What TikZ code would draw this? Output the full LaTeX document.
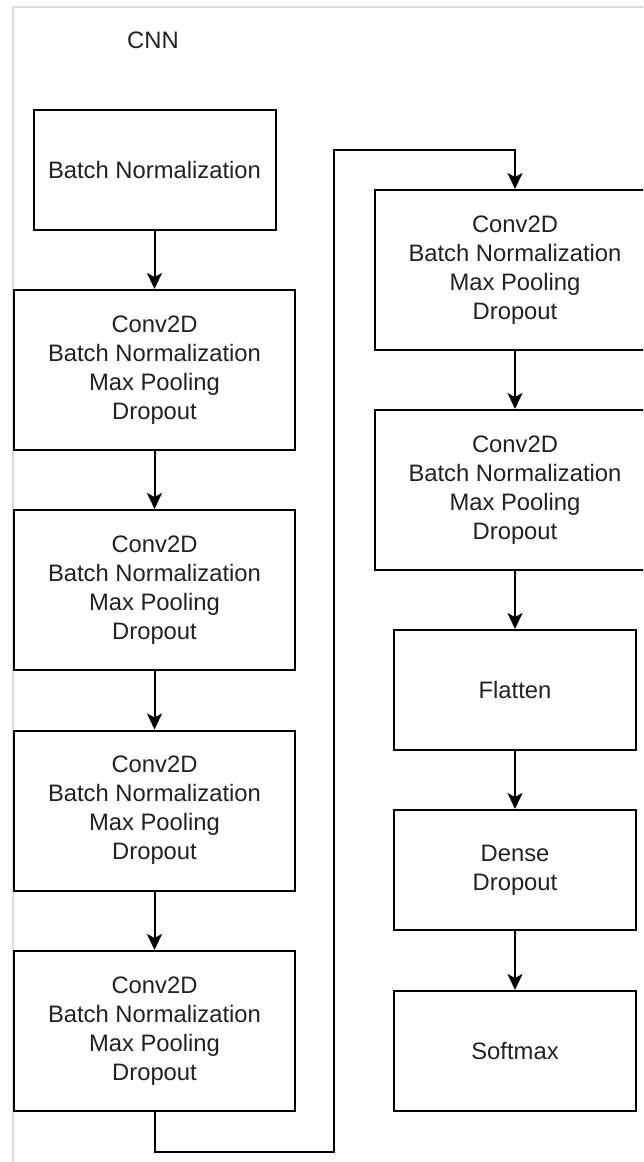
\documentclass[tikz,border=0pt]{standalone}
\usepackage{fontspec}
\setmainfont{Liberation Sans}
\usetikzlibrary{arrows.meta}
\definecolor{framegray}{HTML}{DDDDDD}
\definecolor{inkgray}{HTML}{222222}
\tikzset{
  layer/.style={draw=black, line width=2pt, fill=white, align=center,
    inner sep=0pt, minimum width=281pt, minimum height=160pt,
    text=inkgray, font=\fontsize{23.8}{29}\selectfont},
  smallbox/.style={layer, minimum width=242pt, minimum height=120pt},
  flow/.style={draw=black, line width=2pt,
    -{Stealth[length=16pt, width=15pt, inset=4pt]}},
}
\begin{document}
\begin{tikzpicture}[x=1pt, y=-1pt]
  \useasboundingbox (0,0) rectangle (643,1162);
  \clip (0,0) rectangle (643,1162);
  % light container frame
  \draw[framegray, line width=2pt] (13,1170) |- (660,7);
  % title
  \node[text=inkgray, font=\fontsize{23.8}{29}\selectfont] (title) at (153,40) {CNN};
  % left column
  \node[smallbox] (bn) at (154.5,170) {Batch Normalization};
  \node[layer] (c1) at (154.5,370) {Conv2D\\Batch Normalization\\Max Pooling\\Dropout};
  \node[layer] (c2) at (154.5,590) {Conv2D\\Batch Normalization\\Max Pooling\\Dropout};
  \node[layer] (c3) at (154.5,810.5) {Conv2D\\Batch Normalization\\Max Pooling\\Dropout};
  \node[layer] (c4) at (154.5,1031) {Conv2D\\Batch Normalization\\Max Pooling\\Dropout};
  % right column
  \node[layer] (r1) at (515,270) {Conv2D\\Batch Normalization\\Max Pooling\\Dropout};
  \node[layer] (r2) at (515,490) {Conv2D\\Batch Normalization\\Max Pooling\\Dropout};
  \node[smallbox] (flat) at (515,690) {Flatten};
  \node[smallbox] (dense) at (515,870) {Dense\\Dropout};
  \node[smallbox] (soft) at (515,1051) {Softmax};
  % bends of the connector between the columns
  \coordinate (lowturn) at (334,1152);
  \coordinate (highturn) at (334,150);
  % connectors
  \draw[flow] (bn) -- (c1);
  \draw[flow] (c1) -- (c2);
  \draw[flow] (c2) -- (c3);
  \draw[flow] (c3) -- (c4);
  \draw[flow] (c4.south) |- (lowturn) -- (highturn) -| (r1.north);
  \draw[flow] (r1) -- (r2);
  \draw[flow] (r2) -- (flat);
  \draw[flow] (flat) -- (dense);
  \draw[flow] (dense) -- (soft);
\end{tikzpicture}
\end{document}
